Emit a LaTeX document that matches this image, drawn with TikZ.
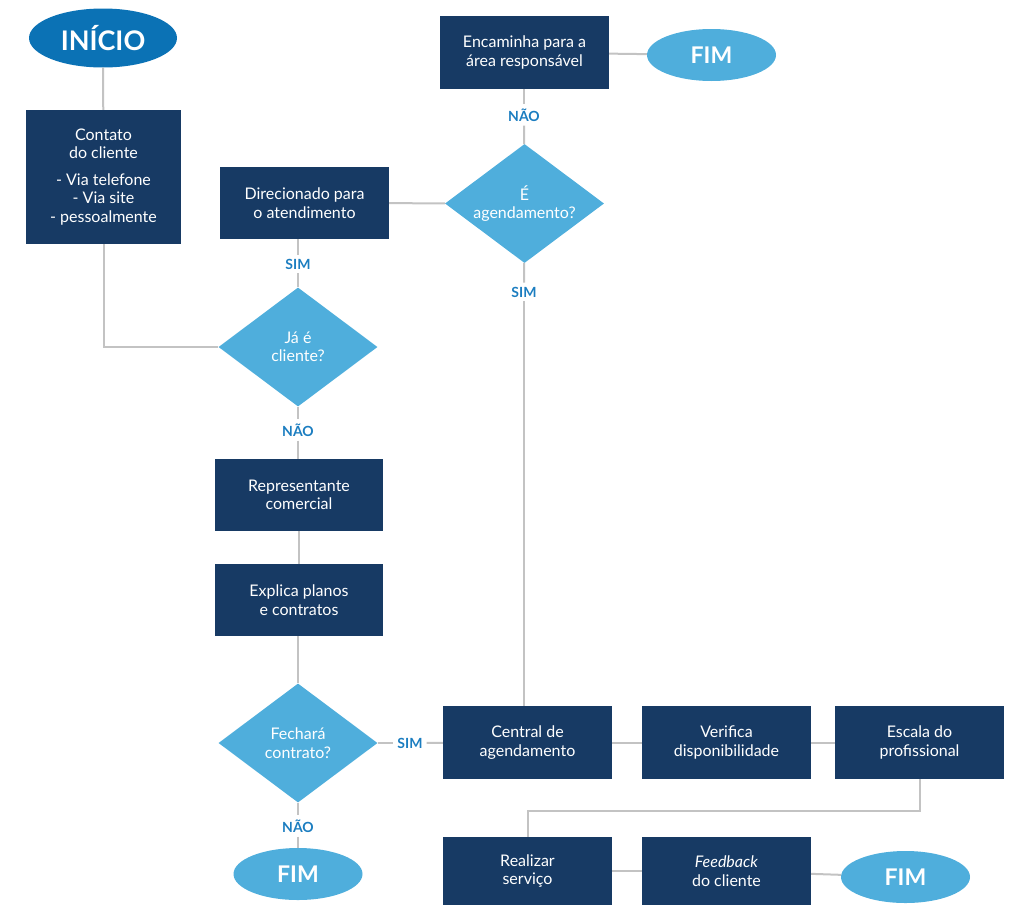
\documentclass[tikz,border=0pt]{standalone}
\usepackage{fontspec}
\setmainfont{Lato}
\usetikzlibrary{shapes.geometric}
\definecolor{navy}{HTML}{173A64}
\definecolor{skyblue}{HTML}{4FAEDC}
\definecolor{startblue}{HTML}{0B72B5}
\definecolor{labelblue}{HTML}{1B7DC0}
\definecolor{linegray}{HTML}{C3C3C3}

\begin{document}
\begin{tikzpicture}[x=1pt, y=-1pt,
		box/.style={rectangle, fill=navy, text=white, align=center, inner sep=0pt, minimum width=169pt, minimum height=73pt, font=\fontsize{16}{18.5}\selectfont},
		decision/.style={diamond, aspect=1.34, fill=skyblue, text=white, align=center, inner sep=0pt, minimum width=159pt, minimum height=119pt, font=\fontsize{16}{18.5}\selectfont},
		terminal/.style={ellipse, fill=skyblue, text=white, inner sep=0pt, minimum width=129pt, minimum height=52pt, font=\fontsize{23}{26}\selectfont\bfseries},
		startnode/.style={terminal, fill=startblue, minimum width=148pt, minimum height=59pt, font=\fontsize{27}{30}\selectfont\bfseries},
		answer/.style={text=labelblue, inner sep=4pt, font=\fontsize{14}{16}\selectfont\bfseries},
		link/.style={draw=linegray, line width=2pt}]
		%%%%% START %%%%%
		
		\useasboundingbox (0, 0) rectangle (1014, 905);
		
		\node[startnode] (inicio) at (103, 38) {INÍCIO};
		\node[box, minimum width=155pt, minimum height=134pt] (contato) at (103.5, 177) {Contato\\do cliente\\[8pt]- Via telefone\\- Via site\\- pessoalmente};
		
		\node[box, minimum height=72pt] (direc) at (304.5, 203) {Direcionado para\\o atendimento};
		\node[answer] (sim1) at (298, 264) {SIM};
		\node[decision] (jae) at (298, 347) {Já é\\cliente?};
		\node[answer] (nao1) at (298, 430) {NÃO};
		
		\node[box, minimum width=168pt, minimum height=72pt] (repr) at (299, 495) {Representante\\comercial};
		\node[box, minimum width=168pt, minimum height=72pt] (explica) at (299, 600) {Explica planos\\e contratos};
		
		\node[decision] (fechara) at (298, 743) {Fechará\\contrato?};
		\node[answer] (nao2) at (298, 826) {NÃO};
		\node[terminal] (fim1) at (298, 874) {FIM};
		\node[answer] (sim3) at (410, 743) {SIM};
		
		\node[box] (encam) at (524.5, 52.5) {Encaminha para a\\área responsável};
		\node[terminal] (fim2) at (711.5, 55) {FIM};
		\node[answer] (nao3) at (524, 115) {NÃO};
		\node[decision] (agend) at (524.5, 203.5) {É\\agendamento?};
		\node[answer] (sim2) at (524, 292) {SIM};
		
		\node[box] (central) at (527.5, 742.5) {Central de\\agendamento};
		\node[box] (verifica) at (726.5, 742.5) {Verifica\\disponibilidade};
		\node[box] (escala) at (919.5, 742.5) {Escala do\\profissional};
		
		\node[box, minimum height=68pt] (realizar) at (527.5, 871) {Realizar\\serviço};
		\node[box, minimum height=68pt] (feedback) at (726.5, 871) {\textit{Feedback}\\do cliente};
		\node[terminal] (fim3) at (905.5, 877) {FIM};
		
		% connectors
		\draw[link] (inicio) -- (contato);
		\draw[link] (contato.south) |- (jae.west);
		\draw[link] (sim1 |- direc.south) -- (sim1);
		\draw[link] (sim1) -- (jae);
		\draw[link] (direc) -- (agend);
		\draw[link] (jae) -- (nao1);
		\draw[link] (nao1) -- (nao1 |- repr.north);
		\draw[link] (repr) -- (explica);
		\draw[link] (explica.south -| fechara) -- (fechara);
		\draw[link] (fechara) -- (nao2);
		\draw[link] (nao2) -- (fim1);
		\draw[link] (fechara) -- (sim3);
		\draw[link] (sim3) -- (central);
		
		\draw[link] (encam) -- (fim2);
		\draw[link] (nao3 |- encam.south) -- (nao3);
		\draw[link] (nao3) -- (agend);
		\draw[link] (agend) -- (sim2);
		\draw[link] (sim2) -- (sim2 |- central.north);
		
		\draw[link] (central) -- (verifica);
		\draw[link] (verifica) -- (escala);
		\draw[link] (escala.south) -- ++(0, 32) -| (realizar.north);
		\draw[link] (realizar) -- (feedback);
		\draw[link] (feedback) -- (fim3);
		
		%%%%% END %%%%%
\end{tikzpicture}
\end{document}
